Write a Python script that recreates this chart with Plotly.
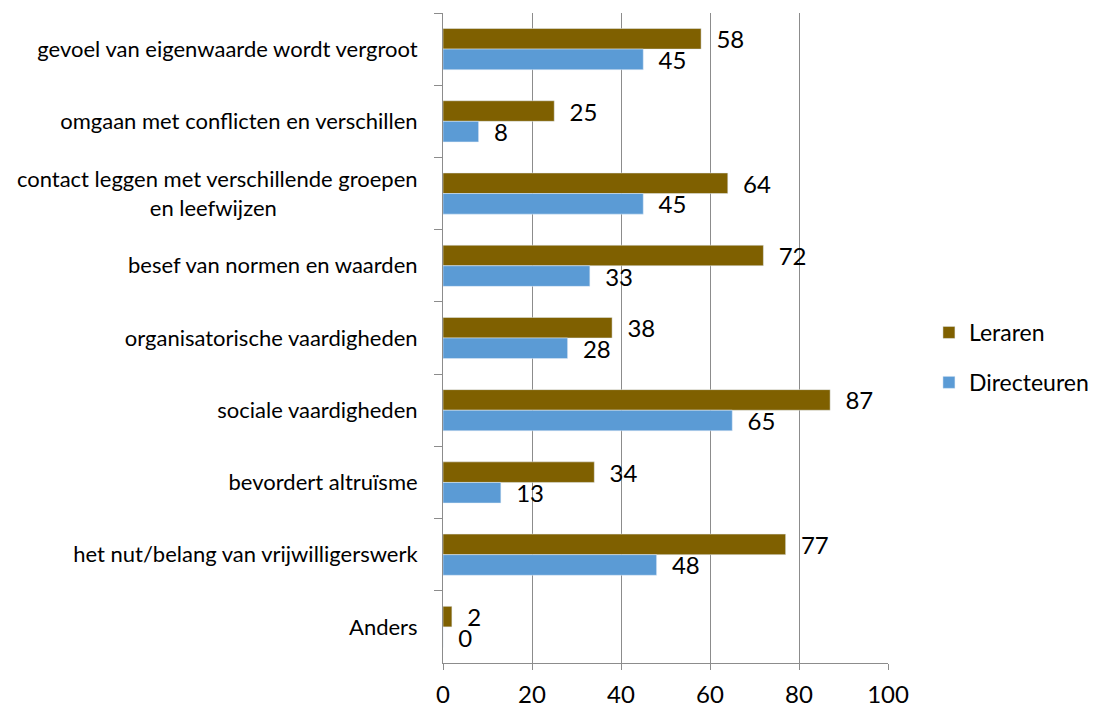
import plotly.graph_objects as go

NBSP = "\u00a0"

# Categories, top to bottom as in the chart
categories = [
    "gevoel van eigenwaarde wordt vergroot",
    "omgaan met conflicten en verschillen",
    "contact leggen met verschillende groepen<br>en leefwijzen" + NBSP * 25,
    "besef van normen en waarden",
    "organisatorische vaardigheden",
    "sociale vaardigheden",
    "bevordert altruïsme",
    "het nut/belang van vrijwilligerswerk",
    "Anders",
]
leraren = [58, 25, 64, 72, 38, 87, 34, 77, 2]
directeuren = [45, 8, 45, 33, 28, 65, 13, 48, 0]

_BROWN = "#7F6000"
_BLUE = "#5B9BD5"
_GRID = "#8C8C8C"
_FONT = "Lato, 'Open Sans', sans-serif"

fig = go.Figure()
for name, values, color, group in [
    ("Leraren", leraren, _BROWN, "a"),
    ("Directeuren", directeuren, _BLUE, "b"),
]:
    fig.add_bar(
        y=categories,
        x=values,
        name=name,
        orientation="h",
        marker_color=color,
        legendgroup=group,
        texttemplate=NBSP * 2 + "%{x}",
        textposition="outside",
        constraintext="none",
        cliponaxis=False,
        textfont={"size": 24, "color": "#000000", "family": _FONT},
    )

# The page body keeps its default 8px margin, so the plot area is shifted to match.
fig.update_layout(
    width=1103,
    height=700,
    barmode="group",
    bargap=0.43,
    bargroupgap=0,
    plot_bgcolor="white",
    paper_bgcolor="white",
    font={"family": _FONT, "color": "#000000"},
    margin={"l": 435, "r": 223, "t": 5, "b": 45, "autoexpand": False},
    legend={
        "x": 1.092,
        "xanchor": "left",
        "y": 0.47,
        "yanchor": "middle",
        "font": {"size": 23},
        "traceorder": "grouped",
        "tracegroupgap": 17,
    },
)
fig.update_xaxes(
    range=[0, 100],
    dtick=20,
    showgrid=True,
    gridcolor=_GRID,
    gridwidth=1,
    showline=True,
    linecolor=_GRID,
    ticks="outside",
    ticklen=6,
    tickcolor=_GRID,
    zeroline=False,
    tickfont={"size": 24},
    ticklabelstandoff=4,
    automargin=False,
)
fig.update_yaxes(
    autorange="reversed",
    showgrid=False,
    showline=True,
    linecolor=_GRID,
    ticks="outside",
    tickson="boundaries",
    ticklen=8,
    tickcolor=_GRID,
    tickfont={"size": 22},
    ticklabelstandoff=20,
    automargin=False,
)

fig.write_html("out.html")
